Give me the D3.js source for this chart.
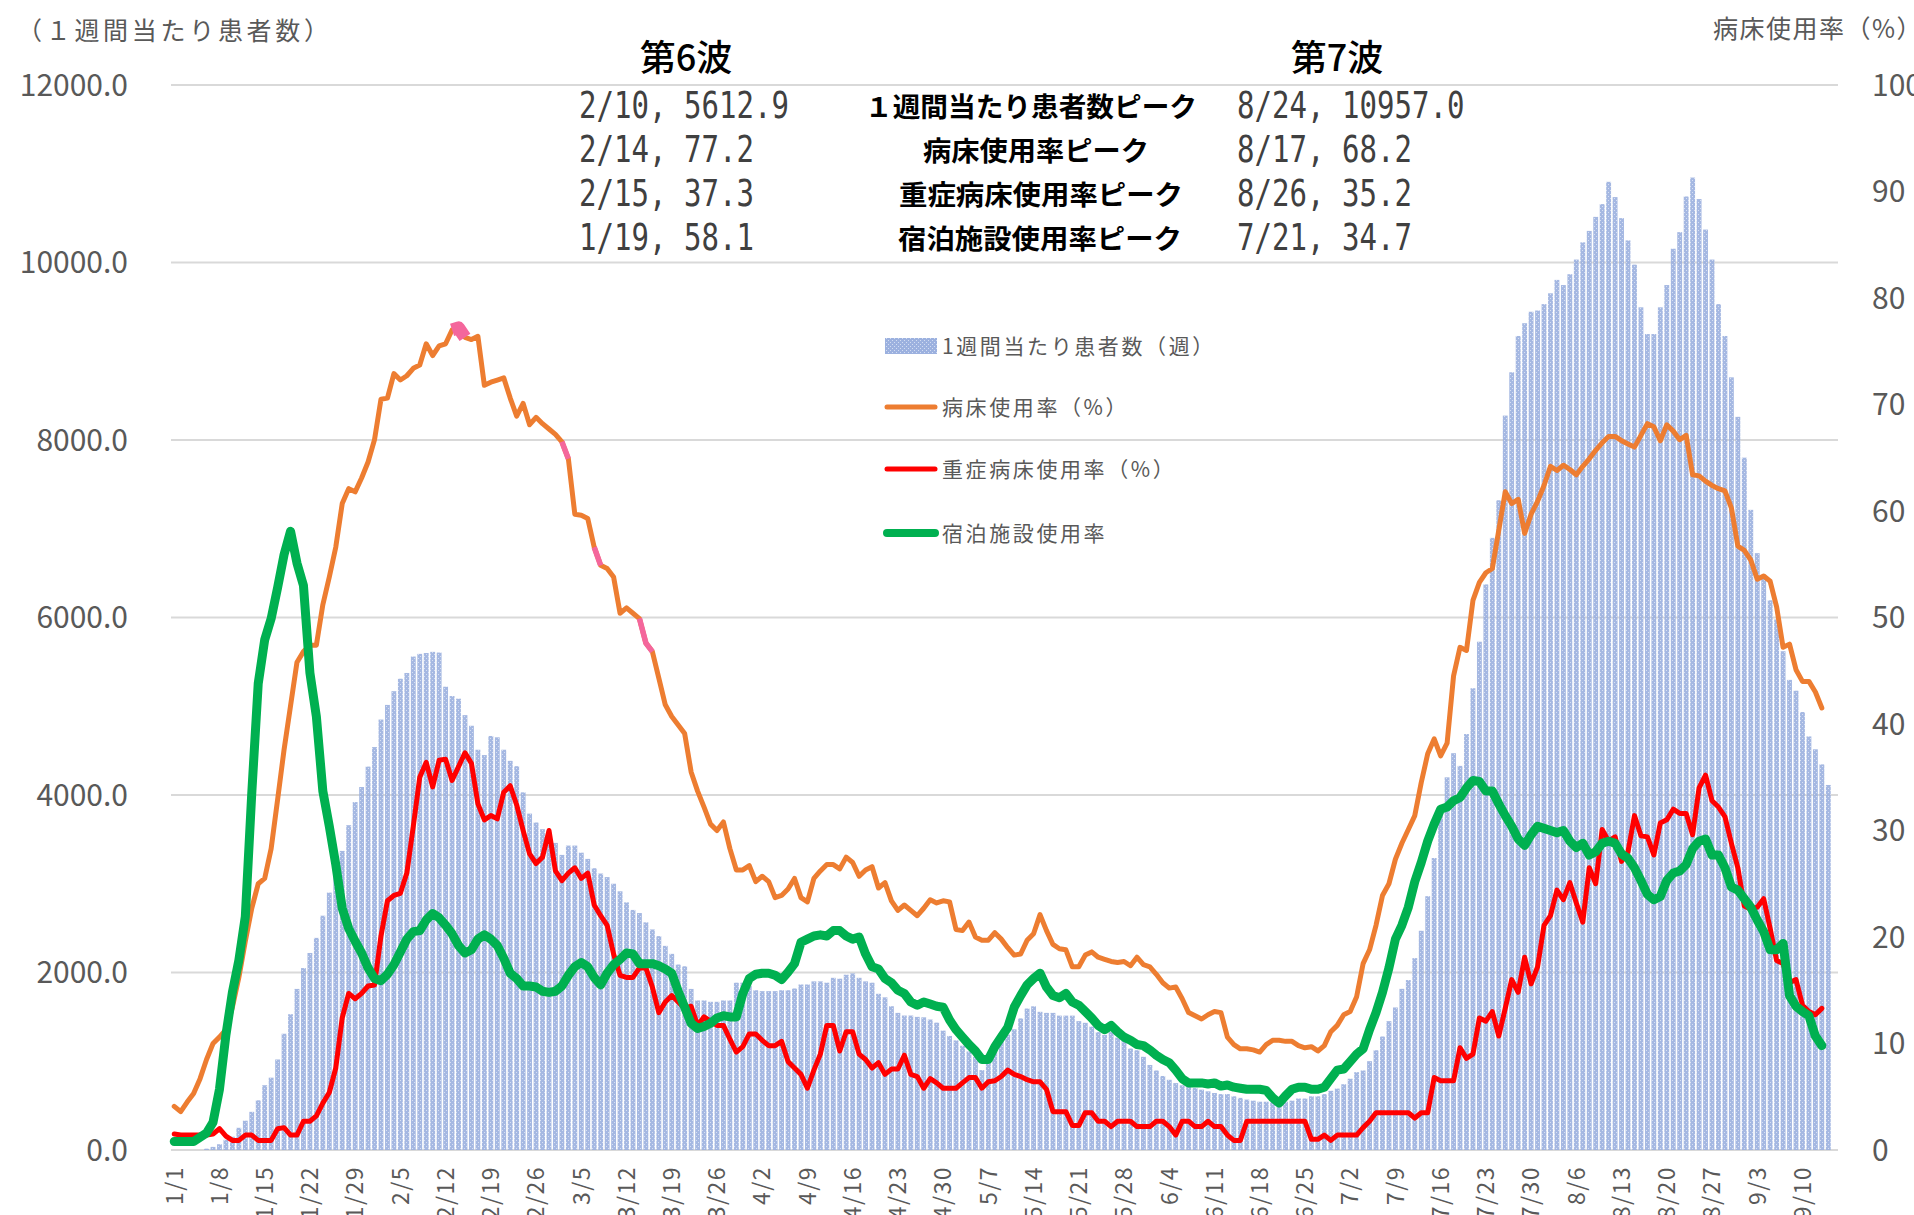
<!DOCTYPE html>
<html><head><meta charset="utf-8">
<script src="https://cdn.jsdelivr.net/npm/d3@7"></script>
<style>html,body{margin:0;padding:0;background:#fff;overflow:hidden}</style>
</head><body>
<svg id="chart" width="1914" height="1215"></svg>
<script>
// ---------- DATA ----------
const dates = d3.timeDay.range(new Date(2022,0,1), new Date(2022,8,16)); // 1/1 .. 9/15
const tickLabels = ["1/1","1/8","1/15","1/22","1/29","2/5","2/12","2/19","2/26","3/5","3/12","3/19","3/26","4/2","4/9","4/16","4/23","4/30","5/7","5/14","5/21","5/28","6/4","6/11","6/18","6/25","7/2","7/9","7/16","7/23","7/30","8/6","8/13","8/20","8/27","9/3","9/10"];
const leftTicks = [0,2000,4000,6000,8000,10000,12000];
const rightTicks = [0,10,20,30,40,50,60,70,80,90,100];

// 1週間当たり患者数 (bars)
const patients = [0,0,0,0,0,15,35,65,115,150,250,330,430,560,730,815,1020,1310,1530,1815,2050,2220,2390,2640,2900,3150,3370,3660,3920,4090,4320,4540,4850,5015,5170,5310,5375,5560,5590,5600,5613,5605,5220,5115,5085,4900,4780,4510,4450,4665,4650,4510,4385,4325,4030,3790,3690,3615,3580,3460,3325,3430,3430,3350,3280,3175,3115,3075,3000,2915,2790,2705,2670,2565,2485,2410,2300,2210,2090,2070,1815,1685,1685,1670,1670,1685,1685,1885,1885,1850,1800,1790,1790,1790,1800,1800,1820,1865,1865,1900,1900,1885,1940,1930,1975,1990,1940,1900,1885,1760,1720,1620,1545,1515,1515,1500,1495,1470,1435,1345,1285,1235,1175,1110,1050,900,1020,1160,1250,1300,1360,1483,1594,1619,1557,1545,1545,1514,1514,1514,1452,1433,1390,1328,1297,1328,1266,1236,1143,1124,1050,958,896,834,791,754,729,710,698,680,661,642,630,630,605,587,568,556,544,544,544,544,544,556,580,580,605,605,630,667,692,741,803,877,896,1001,1124,1279,1452,1606,1816,1915,2162,2470,2860,3290,3800,4199,4471,4328,4687,5203,5727,6373,6897,7321,8275,8763,9172,9316,9445,9459,9531,9653,9804,9746,9868,10033,10227,10356,10514,10658,10909,10737,10500,10249,9976,9495,9194,9194,9495,9746,10155,10342,10744,10957,10715,10371,10033,9531,9172,8706,8261,7801,7213,6725,6481,6194,5978,5620,5297,5175,4935,4660,4515,4345,4113];

// 病床使用率（%）
const bedRate = [4.1,3.6,4.5,5.3,6.7,8.5,10.0,10.6,11.3,13.4,16.2,19.6,22.7,25.0,25.5,28.3,32.9,37.6,41.7,45.8,46.8,47.4,47.4,51.2,53.8,56.6,60.7,62.1,61.8,63.1,64.6,66.7,70.5,70.6,72.9,72.3,72.7,73.4,73.7,75.7,74.6,75.5,75.7,77.0,77.2,76.3,76.1,76.4,71.8,72.1,72.3,72.5,70.6,68.9,70.1,68.1,68.8,68.2,67.7,67.2,66.5,64.9,59.7,59.6,59.3,56.6,54.9,54.6,53.8,50.4,50.9,50.4,49.9,47.6,46.8,44.3,41.8,40.7,39.9,39.1,35.5,33.7,32.2,30.6,30.0,30.8,28.3,26.3,26.3,26.7,25.2,25.7,25.2,23.7,23.9,24.5,25.5,23.7,23.3,25.5,26.2,26.8,26.8,26.4,27.5,27.0,25.7,26.3,26.6,24.6,25.1,23.4,22.5,23.0,22.5,22.0,22.7,23.5,23.2,23.4,23.3,20.7,20.6,21.4,20.0,19.7,19.7,20.4,19.8,19.0,18.3,18.4,19.7,20.3,22.1,20.6,19.3,18.9,18.8,17.2,17.2,18.3,18.6,18.1,17.9,17.7,17.6,17.7,17.3,18.1,17.4,17.2,16.5,15.7,15.2,15.3,14.2,12.9,12.6,12.3,12.7,13.0,12.9,10.6,9.9,9.5,9.5,9.4,9.2,9.9,10.3,10.3,10.2,10.2,9.8,9.6,9.7,9.3,9.8,11.1,11.7,12.7,13.0,14.4,17.5,18.8,21.1,23.9,25.0,27.3,28.8,30.1,31.4,34.5,37.2,38.6,37.0,38.2,44.5,47.2,46.9,51.6,53.3,54.2,54.6,58.2,61.8,60.7,61.1,57.9,59.7,60.9,62.4,64.2,63.8,64.3,63.9,63.4,64.2,64.9,65.7,66.4,67.0,67.0,66.6,66.3,66.0,67.1,68.2,67.9,66.6,68.1,67.5,66.7,67.1,63.4,63.3,62.8,62.4,62.1,61.9,60.3,56.7,56.3,55.4,53.6,53.9,53.4,51.0,47.2,47.5,45.1,44.0,44.0,43.0,41.5];

// 重症病床使用率（%）
const severeRate = [1.5,1.4,1.4,1.4,1.4,1.4,1.5,2.0,1.3,0.9,0.9,1.4,1.4,0.9,0.9,0.9,2.0,2.1,1.4,1.4,2.7,2.7,3.2,4.4,5.4,7.7,12.4,14.7,14.2,14.7,15.4,15.5,20.1,23.4,23.9,24.1,26.0,30.4,35.0,36.4,34.1,36.6,36.7,34.7,36.0,37.3,36.3,32.5,31.0,31.4,31.1,33.6,34.2,32.4,30.0,27.8,26.9,27.5,30.0,26.2,25.3,26.0,26.5,25.5,26.0,23.0,22.0,21.1,18.4,16.4,16.2,16.2,17.1,17.1,15.3,12.9,13.9,14.5,13.9,13.3,13.5,11.7,12.5,12.1,11.7,11.7,10.4,9.2,9.7,10.9,10.9,10.3,9.8,9.8,10.2,8.3,7.7,7.1,5.8,7.5,9.0,11.7,11.7,9.3,11.1,11.1,9.0,8.5,7.7,8.2,7.1,7.6,7.6,8.9,7.1,6.9,5.8,6.7,6.3,5.8,5.8,5.8,6.3,6.8,6.8,5.8,6.4,6.5,6.9,7.5,7.1,6.9,6.6,6.4,6.4,5.7,3.6,3.6,3.6,2.3,2.3,3.5,3.5,2.7,2.7,2.2,2.7,2.7,2.7,2.2,2.2,2.2,2.7,2.7,2.2,1.4,2.7,2.7,2.2,2.2,2.7,2.2,2.2,1.4,0.9,0.9,2.7,2.7,2.7,2.7,2.7,2.7,2.7,2.7,2.7,2.7,1.0,1.0,1.4,0.9,1.4,1.4,1.4,1.4,2.1,2.7,3.5,3.5,3.5,3.5,3.5,3.5,3.0,3.5,3.5,6.8,6.5,6.5,6.5,9.6,8.6,9.0,12.4,12.1,13.0,10.7,13.3,16.0,14.8,18.1,15.6,17.2,21.1,22.0,24.4,23.5,25.1,23.2,21.4,26.5,25.0,30.1,29.0,29.4,27.1,28.0,31.4,29.5,29.4,27.7,30.7,31.0,32.0,31.6,31.6,29.6,34.0,35.2,32.8,32.2,31.3,28.8,26.5,22.9,22.6,22.8,23.6,20.8,17.8,17.5,15.7,16.0,13.6,13.0,12.7,13.3];

// 宿泊施設使用率
const hotelRate = [0.8,0.8,0.8,0.8,1.2,1.6,2.6,5.7,10.8,14.8,17.8,21.9,33.5,43.8,47.9,49.9,52.8,55.9,58.1,55.1,53.0,44.8,40.7,33.7,30.4,26.8,22.7,20.8,19.6,18.5,17.1,16.1,15.9,16.5,17.4,18.6,19.8,20.5,20.6,21.6,22.2,21.8,21.1,20.3,19.2,18.5,18.8,19.8,20.2,19.8,19.2,18.0,16.6,16.1,15.4,15.4,15.3,14.9,14.8,14.9,15.4,16.4,17.2,17.6,17.2,16.2,15.5,16.6,17.4,17.9,18.5,18.4,17.5,17.5,17.5,17.3,17.0,16.6,14.9,13.4,11.9,11.4,11.6,11.9,12.4,12.6,12.5,12.5,14.7,16.1,16.5,16.6,16.6,16.4,16.0,16.7,17.5,19.5,19.8,20.1,20.2,20.1,20.6,20.6,20.1,19.8,20.0,18.4,17.2,17.0,16.1,15.7,15.0,14.7,13.9,13.6,13.9,13.7,13.5,13.4,12.2,11.3,10.6,9.9,9.3,8.5,8.5,9.7,10.6,11.5,13.4,14.5,15.5,16.1,16.6,15.3,14.5,14.3,14.7,13.9,13.6,13.0,12.4,11.7,11.3,11.7,11.1,10.6,10.3,9.9,9.8,9.4,8.9,8.5,8.2,7.5,6.7,6.3,6.3,6.3,6.2,6.3,6.0,6.1,5.9,5.8,5.7,5.7,5.7,5.6,4.9,4.4,5.1,5.7,5.9,5.9,5.7,5.7,5.9,6.7,7.5,7.6,8.3,9.0,9.5,11.3,12.9,14.8,17.1,19.8,21.1,22.8,25.2,27.0,29.0,30.6,32.0,32.2,32.8,33.1,34.0,34.7,34.6,33.7,33.7,32.5,31.4,30.4,29.2,28.6,29.6,30.4,30.2,30.0,29.8,30.0,29.0,28.4,28.8,27.7,28.0,28.8,29.0,28.8,27.8,27.4,26.5,25.3,24.0,23.5,23.8,25.3,26.0,26.2,26.8,28.3,29.0,29.2,27.7,27.7,26.5,24.7,24.4,23.6,22.8,21.6,20.5,18.8,18.8,19.4,14.5,13.5,13.0,12.6,10.7,9.8];

// pink highlighted stretches on the 病床使用率 line (index ranges)
const highlightRanges = [[43,45],[60,61],[65,66],[72,74]];

const waveTitles = ["第6波","第7波"];
const peakLabels = ["１週間当たり患者数ピーク","病床使用率ピーク","重症病床使用率ピーク","宿泊施設使用率ピーク"];
const wave6Peaks = ["2/10, 5612.9","2/14, 77.2","2/15, 37.3","1/19, 58.1"];
const wave7Peaks = ["8/24, 10957.0","8/17, 68.2","8/26, 35.2","7/21, 34.7"];
const legendLabels = ["1週間当たり患者数（週）","病床使用率（%）","重症病床使用率（%）","宿泊施設使用率"];
const leftAxisTitle = "（１週間当たり患者数）";
const rightAxisTitle = "病床使用率（%）";

// ---------- CHART ----------
const JP = "'Noto Sans CJK JP','Noto Sans',sans-serif";
const MONO = "'DejaVu Sans Mono','Liberation Mono',monospace";
const svg = d3.select("#chart");
const X0 = 171, X1 = 1838, Y0 = 1150, Y1 = 85;

const x = d3.scaleBand().domain(d3.range(dates.length)).range([X0, X1]).paddingInner(0.25).paddingOuter(0.125);
const xc = i => x(i) + x.bandwidth()/2;
const yL = d3.scaleLinear().domain([0,12000]).range([Y0, Y1]);
const yR = d3.scaleLinear().domain([0,100]).range([Y0, Y1]);

const defs = svg.append("defs");
const pat = defs.append("pattern").attr("id","dots").attr("width",4).attr("height",4).attr("patternUnits","userSpaceOnUse");
pat.append("rect").attr("width",4).attr("height",4).attr("fill","#9CB1DF");
pat.append("rect").attr("x",0).attr("y",0).attr("width",1).attr("height",1).attr("fill","#D3DDF2");
pat.append("rect").attr("x",2).attr("y",2).attr("width",1).attr("height",1).attr("fill","#D3DDF2");

// gridlines
svg.append("g").selectAll("line").data(leftTicks).join("line")
  .attr("x1", X0).attr("x2", X1).attr("y1", d => yL(d)).attr("y2", d => yL(d))
  .attr("stroke", "#D9D9D9").attr("stroke-width", 2);

// bars
svg.append("g").attr("opacity", 0.9).selectAll("rect").data(patients).join("rect")
  .attr("x", (d,i) => x(i)).attr("width", x.bandwidth())
  .attr("y", d => yL(d)).attr("height", d => Y0 - yL(d))
  .attr("fill", "url(#dots)");

// left axis labels
svg.append("g").selectAll("text").data(leftTicks).join("text")
  .attr("x", 128).attr("y", d => yL(d)).attr("dy","0.36em")
  .attr("text-anchor","end").attr("font-family",JP).attr("font-size",30).attr("fill","#595959")
  .text(d => d3.format(".1f")(d));
// right axis labels
svg.append("g").selectAll("text").data(rightTicks).join("text")
  .attr("x", 1872).attr("y", d => yR(d)).attr("dy","0.36em")
  .attr("text-anchor","start").attr("font-family",JP).attr("font-size",30).attr("fill","#595959")
  .text(d => d);
// x labels
svg.append("g").selectAll("text").data(tickLabels).join("text")
  .attr("transform", (d,k) => `translate(${xc(k*7)},1166) rotate(-90)`)
  .attr("dy","0.36em").attr("text-anchor","end")
  .attr("font-family",JP).attr("font-size",23).attr("letter-spacing",1.5).attr("fill","#595959")
  .text(d => d);

// lines
const lineGen = ys => d3.line().x((d,i) => xc(i)).y(d => ys(d)).curve(d3.curveLinear);
svg.append("path").datum(bedRate).attr("d", lineGen(yR))
  .attr("fill","none").attr("stroke","#ED7D31").attr("stroke-width",5).attr("stroke-linejoin","round").attr("stroke-linecap","round");
// pink highlight stretches
highlightRanges.forEach(([a,b], k) => {
  const pts = d3.range(a, b+1).map(i => [xc(i), yR(bedRate[i])]);
  svg.append("path").attr("d", d3.line()(pts)).attr("fill","none").attr("stroke","#F4669C")
    .attr("stroke-width", k === 0 ? 13 : 5.5).attr("stroke-linejoin","round");
});
svg.append("path").datum(severeRate).attr("d", lineGen(yR))
  .attr("fill","none").attr("stroke","#FF0000").attr("stroke-width",5).attr("stroke-linejoin","round").attr("stroke-linecap","round");
svg.append("path").datum(hotelRate).attr("d", lineGen(yR))
  .attr("fill","none").attr("stroke","#00B050").attr("stroke-width",9).attr("stroke-linejoin","round").attr("stroke-linecap","round");

// axis titles
svg.append("text").attr("x",17).attr("y",40).attr("font-family",JP).attr("font-size",25).attr("fill","#595959")
  .attr("textLength",312).attr("lengthAdjust","spacing").text(leftAxisTitle);
svg.append("text").attr("x",1713).attr("y",38).attr("font-family",JP).attr("font-size",25).attr("fill","#595959")
  .attr("letter-spacing",1.5).text(rightAxisTitle);

// wave titles
[686, 1337].forEach((cx, k) => {
  svg.append("text").attr("x",cx).attr("y",71).attr("text-anchor","middle")
    .attr("font-family",JP).attr("font-size",36).attr("font-weight",500).attr("fill","#000").text(waveTitles[k]);
});
// peak table
const rowY = [118, 162, 206, 250];
const labelPos = [[865,332],[923,226],[899,284],[898,284]];
peakLabels.forEach((t,k) => {
  svg.append("text").attr("x",labelPos[k][0]).attr("y",rowY[k]-1)
    .attr("font-family",JP).attr("font-size",27).attr("font-weight",700).attr("fill","#000")
    .attr("textLength",labelPos[k][1]).attr("lengthAdjust","spacingAndGlyphs").text(t);
});
const valStyle = (sel, t) => sel.attr("font-family",MONO).attr("font-size",37).attr("fill","#404040")
  .attr("textLength", t.length*17.5).attr("lengthAdjust","spacingAndGlyphs").text(t);
wave6Peaks.forEach((t,k) => valStyle(svg.append("text").attr("x",579).attr("y",rowY[k]), t));
wave7Peaks.forEach((t,k) => valStyle(svg.append("text").attr("x",1237).attr("y",rowY[k]), t));

// legend
const legY = [346, 407, 469, 533];
const lg = svg.append("g");
lg.append("rect").attr("x",885).attr("y",legY[0]-8).attr("width",52).attr("height",16).attr("fill","url(#dots)");
const legLine = [null, ["#ED7D31",5], ["#FF0000",5], ["#00B050",8]];
legLine.forEach((s,k) => {
  if (!s) return;
  lg.append("line").attr("x1",887).attr("x2",935).attr("y1",legY[k]).attr("y2",legY[k])
    .attr("stroke",s[0]).attr("stroke-width",s[1]).attr("stroke-linecap","round");
});
legendLabels.forEach((t,k) => {
  lg.append("text").attr("x",942).attr("y",legY[k]).attr("dy","0.36em")
    .attr("font-family",JP).attr("font-size",21).attr("letter-spacing",2.6).attr("fill","#595959").text(t);
});
</script>
</body></html>
